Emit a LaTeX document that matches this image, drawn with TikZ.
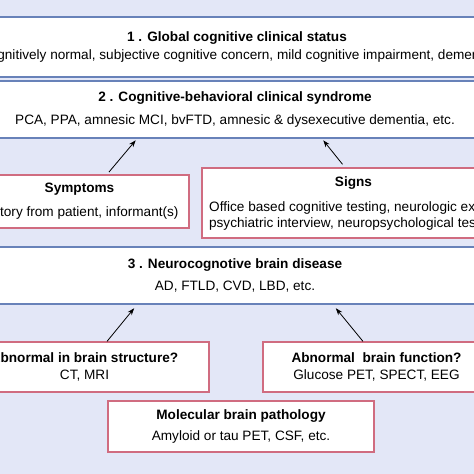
\documentclass[tikz,border=0pt]{standalone}
\usepackage{fontspec}
\setmainfont{Liberation Sans}
\usetikzlibrary{arrows.meta,positioning}
\definecolor{bgblue}{RGB}{227,231,247}
\definecolor{lineblue}{RGB}{104,130,185}
\definecolor{linepink}{RGB}{208,108,128}

\begin{document}
\begin{tikzpicture}[>={Stealth[length=7pt,width=5pt]}, x=1pt, y=-1pt,
                    font=\fontsize{13.6}{16}\selectfont]
  \tikzstyle{level}=[fill=white,draw=lineblue,line width=1.5pt,minimum width=560pt,align=center,inner sep=0pt]
  \tikzstyle{finding}=[fill=white,draw=linepink,line width=1.2pt,align=center,inner sep=0pt]

  \useasboundingbox (0,0) rectangle (474,474);
  \clip (0,0) rectangle (474,474);
  \fill[bgblue] (0,0) rectangle (474,474);

  \node[level, minimum height=60pt] (status) at (237,47)
    {\textbf{1 . Global cognitive clinical status}\\[2pt]
     Cognitively normal, subjective cognitive concern, mild cognitive impairment, dementia};
  \node[level, minimum height=57pt] (syndrome) at (235,109.5)
    {\textbf{2 . Cognitive-behavioral clinical syndrome}\\[7pt]
     PCA, PPA, amnesic MCI, bvFTD, amnesic \& dysexecutive dementia, etc.};
  \node[finding, minimum width=219pt, minimum height=53pt] (symptoms) at (79.5,201.5)
    {\textbf{Symptoms}\\[8pt] History from patient, informant(s)};
  \node[finding, minimum width=303pt, minimum height=70pt] (signs) at (353.5,203)
    {\textbf{Signs}\\[9pt] Office based cognitive testing, neurologic exam,\\
     psychiatric interview, neuropsychological testing};
  \node[level, minimum height=57pt] (disease) at (235,275.5)
    {\textbf{3 . Neurocognotive brain disease}\\[6pt] AD, FTLD, CVD, LBD, etc.};
  \node[finding, minimum width=249pt, minimum height=50pt] (structure) at (84.5,367)
    {\textbf{Abnormal in brain structure?}\\[1pt] CT, MRI};
  \node[finding, minimum width=227pt, minimum height=50pt] (function) at (376.5,367)
    {\textbf{Abnormal\ \ brain function?}\\[0.5pt] Glucose PET, SPECT, EEG};
  \node[finding, minimum width=266pt, minimum height=51pt] (molecular) at (241,426.5)
    {\textbf{Molecular brain pathology}\\[5pt] Amyloid or tau PET, CSF, etc.};

  \path[->, line width=0.8pt]
    ([xshift=27.5pt]symptoms.north) edge [shorten <=3pt, shorten >=2pt] ([xshift=-98pt]syndrome.south)
    ([xshift=-8.5pt]signs.north)    edge [shorten <=4pt, shorten >=2pt] ([xshift=87pt]syndrome.south)
    ([xshift=22.5pt]structure.north) edge [shorten >=4.5pt] ([xshift=-98pt]disease.south)
    ([xshift=-13.5pt]function.north) edge [shorten >=4.5pt] ([xshift=98pt]disease.south)
    ;
\end{tikzpicture}
\end{document}
